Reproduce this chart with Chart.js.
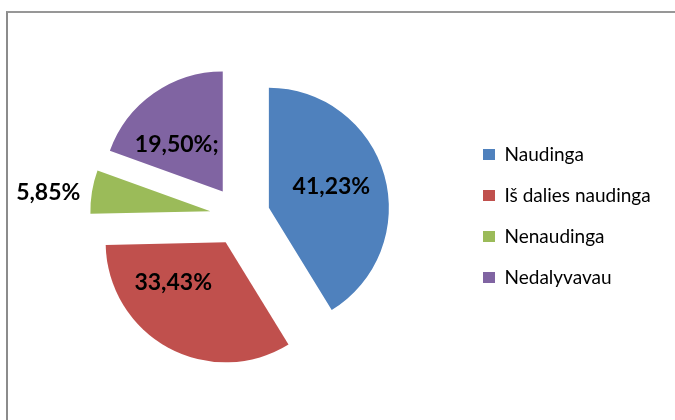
<!DOCTYPE html>
<html>
<head>
<meta charset="utf-8">
<script src="https://cdn.jsdelivr.net/npm/chart.js@4/dist/chart.umd.min.js"></script>
<style>
    html, body { margin: 0; padding: 0; background: #fff; }
    #wrap { position: relative; width: 675px; height: 420px; overflow: hidden; }
    #frame {
        position: absolute; left: 6px; top: 11px; width: 700px; height: 440px;
        border-left: 2px solid #8c8c8c; border-top: 2px solid #979797;
    }
    #chartBox { position: absolute; left: 0; top: 0; width: 675px; height: 420px; }
</style>
</head>
<body>
<div id="wrap">
    <div id="frame"></div>
    <div id="chartBox"><canvas id="pieChart"></canvas></div>
</div>
<script>
// Chart data
const categories = ['Naudinga', 'Iš dalies naudinga', 'Nenaudinga', 'Nedalyvavau'];
const shares = [41.23, 33.43, 5.85, 19.50];
const valueLabels = ['41,23%', '33,43%', '5,85%', '19,50%;'];

// Look
const sliceColors = ['#4F81BD', '#C0504D', '#9BBB59', '#8064A2'];
const EXPLODE = 30;
// where each value label sits: share of the slice angle, share of the radius (from the slice tip)
const labelAngleFrac = [0.48, 0.70, 0.37, 0.37];
const labelRadiusFrac = [0.55, 0.55, 1.36, 0.55];

// Pull every slice out along its middle angle, all by the same distance
const explodePlugin = {
    id: 'explode',
    beforeDatasetDraw(chart, args) {
        const ctx = chart.ctx;
        args.meta.data.forEach(arc => {
            const mid = (arc.startAngle + arc.endAngle) / 2;
            ctx.save();
            ctx.translate(Math.cos(mid) * EXPLODE, Math.sin(mid) * EXPLODE);
            arc.draw(ctx);
            ctx.restore();
        });
        return false;
    }
};

// Percent labels on / next to the slices
const valueLabelPlugin = {
    id: 'valueLabels',
    afterDatasetsDraw(chart) {
        const ctx = chart.ctx;
        const meta = chart.getDatasetMeta(0);
        ctx.save();
        ctx.font = 'bold 23px Lato';
        ctx.fillStyle = '#000';
        ctx.textAlign = 'center';
        ctx.textBaseline = 'middle';
        meta.data.forEach((arc, i) => {
            const mid = (arc.startAngle + arc.endAngle) / 2;
            const tipX = arc.x + Math.cos(mid) * EXPLODE;
            const tipY = arc.y + Math.sin(mid) * EXPLODE;
            const a = arc.startAngle + (arc.endAngle - arc.startAngle) * labelAngleFrac[i];
            const r = arc.outerRadius * labelRadiusFrac[i];
            ctx.fillText(valueLabels[i], tipX + Math.cos(a) * r, tipY + Math.sin(a) * r);
        });
        ctx.restore();
    }
};

function drawChart() {
    new Chart(document.getElementById('pieChart'), {
        type: 'pie',
        data: {
            labels: categories,
            datasets: [{
                data: shares,
                backgroundColor: sliceColors,
                borderWidth: 0,
                radius: 120
            }]
        },
        options: {
            responsive: true,
            maintainAspectRatio: false,
            animation: false,
            events: [],
            layout: {
                padding: { left: 19, top: 12, right: 24, bottom: 0 }
            },
            plugins: {
                tooltip: { enabled: false },
                legend: {
                    position: 'right',
                    maxWidth: 190,
                    labels: {
                        boxWidth: 12,
                        boxHeight: 11,
                        padding: 22,
                        color: '#000',
                        font: { family: 'Lato', size: 19 }
                    }
                }
            }
        },
        plugins: [explodePlugin, valueLabelPlugin]
    });
}

Promise.all([
    document.fonts.load('19px Lato'),
    document.fonts.load('bold 23px Lato')
]).then(drawChart, drawChart);
</script>
</body>
</html>
